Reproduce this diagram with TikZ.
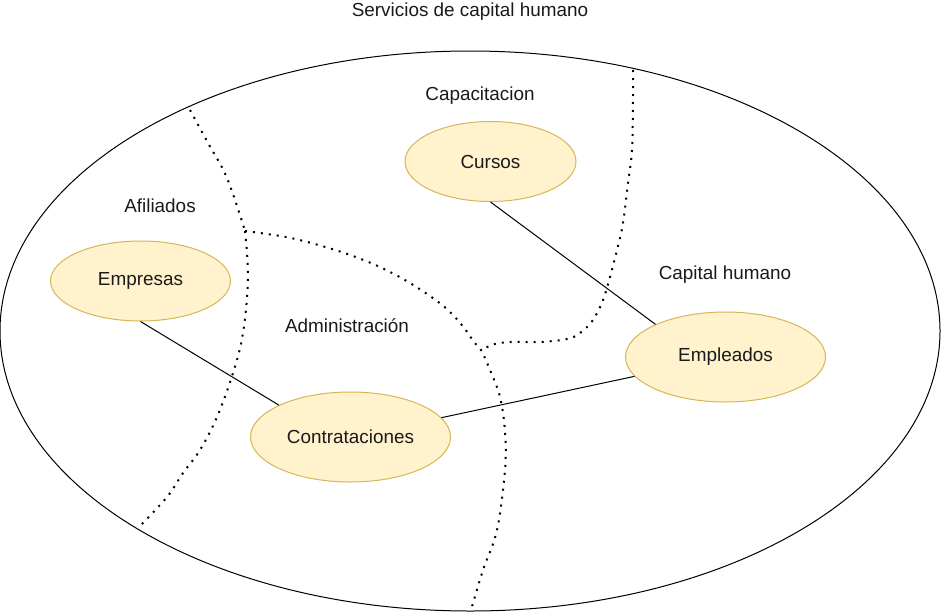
\documentclass[tikz,border=0pt]{standalone}
\usepackage{fontspec}
\setmainfont{Liberation Sans}
\usetikzlibrary{shapes.geometric}
\definecolor{fillY}{HTML}{FFF2CC}
\definecolor{lineY}{HTML}{D6B656}
\definecolor{txtc}{HTML}{1A1A1A}
\begin{document}
\begin{tikzpicture}[x=1pt,y=-1pt,
  txt/.style={font=\fontsize{18.9}{22}\selectfont, text=txtc, inner sep=0pt},
  entity/.style={txt, ellipse, draw=lineY, fill=fillY, line width=1pt},
  link/.style={draw=black, line width=1pt},
  boundary/.style={draw=black, line width=2pt, dash pattern=on 2pt off 6pt}]
\useasboundingbox (0,0) rectangle (941,613);
% outer system ellipse
\node[ellipse, draw=black, line width=1pt, minimum width=940pt, minimum height=560pt, inner sep=0pt] (world) at (470,331) {};
% region boundaries
\coordinate (j1) at (245,231);
\coordinate (j2) at (481,350);
\draw[boundary] plot[smooth, tension=0.6] coordinates {(190,110) (208,143) (227,178) (245,231)};
\draw[boundary] plot[smooth, tension=0.6] coordinates {(245,231) (248,278) (243,333) (233,373) (217,417) (200,450) (183,473) (167,497) (139,527)};
\draw[boundary] plot[smooth, tension=0.6] coordinates {(245,231) (267,234) (291,238) (322,246) (353,256) (382,268) (410,283) (437,301) (452,314) (465,329) (474,342) (481,350) (490,370) (500,397) (505,432) (505,470) (497,530) (483,570) (471,610)};
\draw[boundary] plot[smooth, tension=0.6] coordinates {(633,70) (633,100) (632,150) (628,183) (623,223) (617,250) (610,277) (603,300) (593,320) (580,333) (567,339) (540,342) (511,342) (495,344) (481,350)};
% region labels
\node[txt] (title) at (470,12) {Servicios de capital humano};
\node[txt] (lcap) at (480,96) {Capacitacion};
\node[txt] (lafi) at (160,206) {Afiliados};
\node[txt] (lcaph) at (725,275) {Capital humano};
\node[txt] (ladm) at (347,326) {Administración};
% entities
\node[entity, minimum width=171pt, minimum height=80pt] (cursos) at (490.5,161.5) {Cursos};
\node[entity, minimum width=180pt, minimum height=80pt] (empresas) at (140.5,281) {Empresas};
\node[entity, minimum width=200pt, minimum height=90pt] (contrat) at (350.5,437) {Contrataciones};
\node[entity, minimum width=200pt, minimum height=90pt] (empleados) at (725.5,357) {Empleados};
% links
\draw[link] (cursos.south) -- (empleados.155);
\draw[link] (empresas.south) -- (contrat.156);
\draw[link] (contrat.12) -- (empleados.192);
\end{tikzpicture}
\end{document}
